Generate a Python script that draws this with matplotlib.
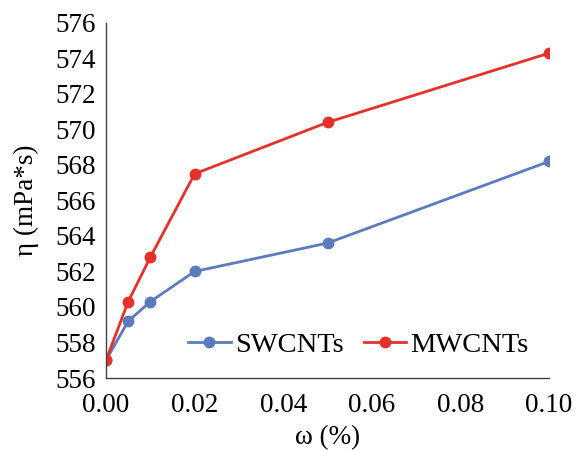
import matplotlib
matplotlib.use("Agg")
import matplotlib.pyplot as plt

plt.rcParams["font.family"] = ["Liberation Serif", "DejaVu Serif"]

x = [0.0, 0.005, 0.01, 0.02, 0.05, 0.10]
swcnt = [557.0, 559.2, 560.3, 562.0, 563.6, 568.2]
mwcnt = [557.0, 560.3, 562.8, 567.5, 570.4, 574.3]

blue = "#5B7BBE"
red = "#E8302A"
fs = 19.5

fig = plt.figure(figsize=(5.78, 4.5), dpi=100)
ax = fig.add_axes([0.1834, 0.16, 0.7666, 0.789])

ax.plot(x, swcnt, color=blue, lw=2.0, marker="o", ms=7.5, label="SWCNTs")
ax.plot(x, mwcnt, color=red, lw=2.0, marker="o", ms=7.5, label="MWCNTs")

ax.set_xlim(0, 0.10)
ax.set_ylim(556, 576)
ax.set_xticks([0.0, 0.02, 0.04, 0.06, 0.08, 0.10])
ax.set_xticklabels(["0.00", "0.02", "0.04", "0.06", "0.08", "0.10"])
ax.set_yticks(range(556, 577, 2))
ax.tick_params(axis="y", length=0, labelsize=fs, pad=7)
ax.tick_params(axis="x", length=0, labelsize=fs, pad=11)

for s in ["top", "right"]:
    ax.spines[s].set_visible(False)
for s in ["left", "bottom"]:
    ax.spines[s].set_color("#404040")
    ax.spines[s].set_linewidth(1.0)

ax.set_xlabel("ω (%)", fontsize=fs, labelpad=5)
ax.set_ylabel("η (mPa*s)", fontsize=fs, labelpad=12)

ax.legend(loc="center left", bbox_to_anchor=(0.185, 0.093), ncol=2, frameon=False,
          fontsize=20.5, handlelength=1.5, handletextpad=0.15, columnspacing=0.7,
          borderpad=0, borderaxespad=0)

fig.savefig("out.png", dpi=100)
